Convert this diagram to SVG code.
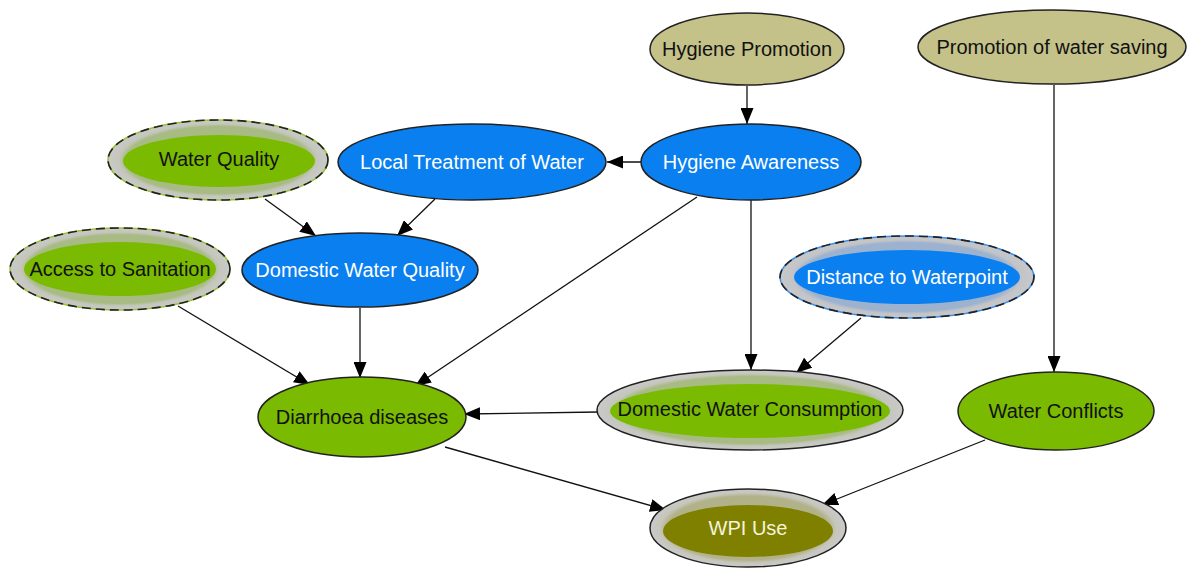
<svg xmlns="http://www.w3.org/2000/svg" width="1187" height="569" viewBox="0 0 1187 569">
<defs>
<marker id="arr" markerUnits="userSpaceOnUse" markerWidth="16" markerHeight="13" refX="16" refY="6.5" orient="auto">
<path d="M0,0 L16,6.5 L0,13 z" fill="#000"/>
</marker>
<radialGradient id="ringG" cx="50%" cy="50%" r="50%">
<stop offset="0.84" stop-color="#a9bb85"/>
<stop offset="0.9" stop-color="#c4c6bc"/>
<stop offset="1" stop-color="#cacaca"/>
</radialGradient>
<radialGradient id="ringB" cx="50%" cy="50%" r="50%">
<stop offset="0.84" stop-color="#9cb2cf"/>
<stop offset="0.9" stop-color="#c2c4c8"/>
<stop offset="1" stop-color="#c8c8c8"/>
</radialGradient>
<radialGradient id="ringO" cx="50%" cy="50%" r="50%">
<stop offset="0.82" stop-color="#b2b28a"/>
<stop offset="0.9" stop-color="#c6c6bc"/>
<stop offset="1" stop-color="#cacaca"/>
</radialGradient>
</defs>
<style>
text{font-family:"Liberation Sans",Arial,sans-serif;font-size:20px;text-anchor:middle}
.k{fill:#111}
.w{fill:#fff}
.olive{fill:#c4c189;stroke:#222;stroke-width:1.5}
.blue{fill:#0a7ff0;stroke:#222;stroke-width:1.5}
.green{fill:#7aba00;stroke:#222;stroke-width:1.5}
.dash{fill:none;stroke:#222;stroke-width:1.6;stroke-dasharray:9,5}
.edge{stroke:#111;stroke-width:1.3;fill:none;marker-end:url(#arr)}
</style>
<rect width="1187" height="569" fill="#fff"/>
<g id="edges">
<line class="edge" x1="747" y1="86" x2="747" y2="124"/>
<line class="edge" x1="1054" y1="85" x2="1054" y2="372"/>
<line class="edge" x1="641" y1="162" x2="607" y2="162"/>
<line class="edge" x1="265" y1="199" x2="316" y2="236"/>
<line class="edge" x1="435" y1="199" x2="397" y2="236"/>
<line class="edge" x1="697" y1="197" x2="415" y2="386"/>
<line class="edge" x1="751" y1="200" x2="751" y2="370"/>
<line class="edge" x1="861" y1="318" x2="796" y2="373"/>
<line class="edge" x1="178" y1="306" x2="310" y2="385"/>
<line class="edge" x1="360" y1="308" x2="360" y2="378"/>
<line class="edge" x1="598" y1="412" x2="464" y2="414"/>
<line class="edge" x1="445" y1="447" x2="666" y2="510"/>
<line class="edge" x1="985" y1="440" x2="822" y2="505"/>
</g>
<g id="hygiene-promotion">
<ellipse class="olive" cx="747" cy="49" rx="97" ry="36"/>
<text class="k" x="747" y="56">Hygiene Promotion</text>
</g>
<g id="promotion-water-saving">
<ellipse class="olive" cx="1052" cy="47" rx="134" ry="37"/>
<text class="k" x="1052" y="54">Promotion of water saving</text>
</g>
<g id="water-quality">
<ellipse cx="218" cy="160" rx="110" ry="40" fill="url(#ringG)" stroke="#9ac23a" stroke-width="1.5"/>
<ellipse class="dash" cx="218" cy="160" rx="110" ry="40"/>
<ellipse cx="219" cy="161" rx="96" ry="26" fill="#7aba00"/>
<text class="k" x="219" y="166">Water Quality</text>
</g>
<g id="local-treatment">
<ellipse class="blue" cx="472" cy="162" rx="134" ry="38"/>
<text class="w" x="472" y="169">Local Treatment of Water</text>
</g>
<g id="hygiene-awareness">
<ellipse class="blue" cx="751" cy="162" rx="110" ry="38"/>
<text class="w" x="751" y="169">Hygiene Awareness</text>
</g>
<g id="access-sanitation">
<ellipse cx="120" cy="269" rx="110" ry="41" fill="url(#ringG)" stroke="#9ac23a" stroke-width="1.5"/>
<ellipse class="dash" cx="120" cy="269" rx="110" ry="41"/>
<ellipse cx="120" cy="269" rx="96" ry="27" fill="#7aba00"/>
<text class="k" x="120" y="276">Access to Sanitation</text>
</g>
<g id="domestic-water-quality">
<ellipse class="blue" cx="360" cy="270" rx="118" ry="37"/>
<text class="w" x="360" y="277">Domestic Water Quality</text>
</g>
<g id="distance-waterpoint">
<ellipse cx="907" cy="277" rx="127" ry="41" fill="url(#ringB)" stroke="#3a90f0" stroke-width="1.5"/>
<ellipse class="dash" cx="907" cy="277" rx="127" ry="41"/>
<ellipse cx="907" cy="277" rx="113" ry="27" fill="#0a7ff0"/>
<text class="w" x="907" y="284">Distance to Waterpoint</text>
</g>
<g id="diarrhoea">
<ellipse class="green" cx="362" cy="417" rx="104" ry="40"/>
<text class="k" x="362" y="424">Diarrhoea diseases</text>
</g>
<g id="domestic-water-consumption">
<ellipse cx="750" cy="410" rx="153" ry="40" fill="url(#ringG)" stroke="#222" stroke-width="1.5"/>
<ellipse cx="750" cy="411" rx="140" ry="27" fill="#7aba00"/>
<text class="k" x="750" y="416">Domestic Water Consumption</text>
</g>
<g id="water-conflicts">
<ellipse class="green" cx="1056" cy="411" rx="98" ry="39"/>
<text class="k" x="1056" y="418">Water Conflicts</text>
</g>
<g id="wpi-use">
<ellipse cx="748" cy="528" rx="98" ry="39" fill="url(#ringO)" stroke="#222" stroke-width="1.5"/>
<ellipse cx="748" cy="531" rx="85" ry="26" fill="#808000"/>
<text x="748" y="535" fill="#f4f4dc">WPI Use</text>
</g>
</svg>
